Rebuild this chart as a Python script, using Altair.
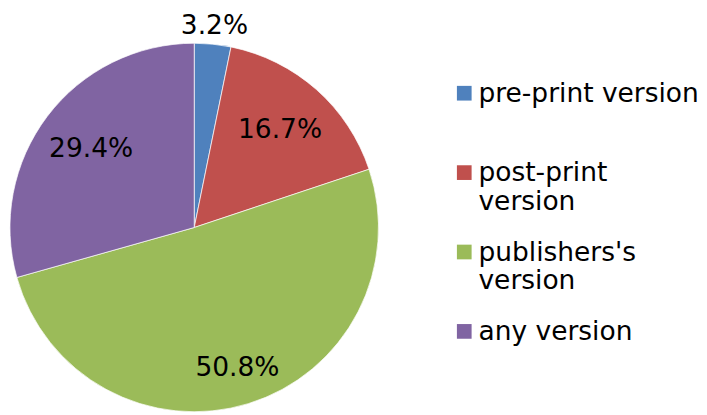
import altair as alt
import pandas as pd

categories = ["pre-print version", "post-print version", "publishers's version", "any version"]
values = [3.2, 16.7, 50.8, 29.4]
labels = ["3.2%", "16.7%", "50.8%", "29.4%"]
colors = ["#4F81BD", "#C0504D", "#9BBB59", "#8064A2"]

df = pd.DataFrame({
    "category": categories,
    "value": values,
    "label": labels,
    "order": list(range(len(categories))),
})

FONT = "DejaVu Sans"

base = alt.Chart(df).encode(
    theta=alt.Theta("value:Q", stack=True),
    order=alt.Order("order:Q", sort="ascending"),
)

pie = base.mark_arc(radius=188, stroke="white", strokeWidth=0.7).encode(
    color=alt.Color(
        "category:N",
        scale=alt.Scale(domain=categories, range=colors),
        sort=categories,
        legend=alt.Legend(
            title=None,
            orient="none",
            legendX=452,
            legendY=57,
            padding=0,
            symbolType="M-1,0.6H1V2.6H-1Z",
            symbolSize=225,
            symbolStrokeWidth=0,
            labelFont=FONT,
            labelFontSize=27,
            labelColor="black",
            labelBaseline="top",
            labelLimit=400,
            labelOffset=1,
            rowPadding=12,
            labelExpr="length(datum.label) > 17 ? split(datum.label, ' ') : [datum.label, '']",
        ),
    )
)

text = base.mark_text(
    font=FONT,
    fontSize=27,
    color="black",
    align="center",
    baseline="middle",
    radius=alt.expr("datum.value < 5 ? 206 : datum.value > 40 ? 150 : 132"),
).encode(text="label:N")

chart = (
    alt.layer(pie, text)
    .properties(width=380, height=439, padding=0)
    .configure_view(stroke=None)
)

chart.save("out.html", embed_options={"renderer": "svg", "actions": False})
